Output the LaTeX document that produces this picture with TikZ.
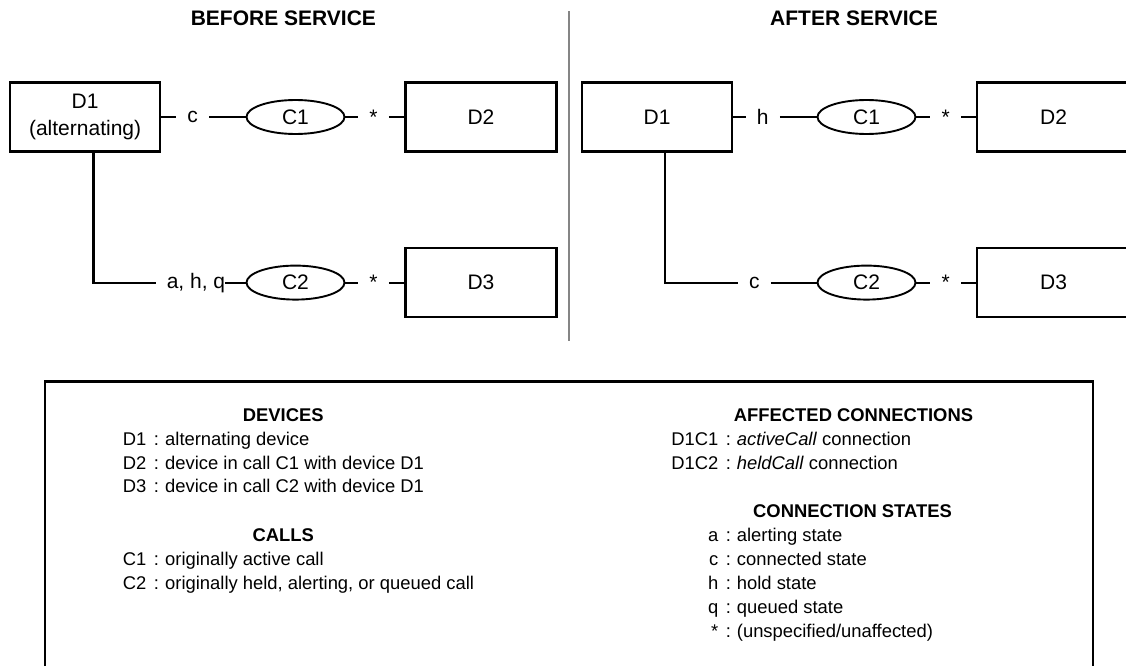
\documentclass[tikz,border=0pt]{standalone}
\usepackage{fontspec}
\setmainfont{Liberation Sans}
\usetikzlibrary{shapes.geometric}
\begin{document}
\begin{tikzpicture}[x=1pt,y=-1pt,
  every node/.style={font=\fontsize{21}{27.7}\selectfont},
  devbox/.style={draw, line width=2.2pt, minimum width=150pt, minimum height=69pt, inner sep=0pt, align=center},
  callnode/.style={draw, ellipse, line width=1.9pt, minimum width=98pt, minimum height=34pt, inner sep=0pt},
  conn/.style={line width=2.2pt},
  stlab/.style={inner xsep=11pt, inner ysep=0pt},
  title/.style={font=\fontsize{21}{24}\selectfont\bfseries, anchor=base, inner sep=0pt},
  lghead/.style={font=\fontsize{18.4}{22}\selectfont\bfseries, anchor=base, inner sep=0pt},
  lgtext/.style={font=\fontsize{18.4}{22}\selectfont, anchor=base west, inner sep=0pt},
  lglab/.style={font=\fontsize{18.4}{22}\selectfont, inner sep=0pt},
  lgcolon/.style={font=\fontsize{18.4}{22}\selectfont, anchor=base, inner sep=0pt}
]
\useasboundingbox (0,0) rectangle (1126,666);

% titles and divider
\node[title] (tbefore) at (283.4,25.4) {BEFORE SERVICE};
\node[title] (tafter) at (854,25.4) {AFTER SERVICE};
\coordinate (divtop) at (569.4,11.5);
\coordinate (divbot) at (569.4,341);
\draw[color=black!48, line width=2pt] (divtop) -- (divbot);

% ---------- BEFORE ----------
\node[devbox] (d1L) at (85.1,117) {D1\\(alternating)};
\node[devbox, minimum width=151pt] (d2L) at (481,117) {D2};
\node[devbox, minimum width=151pt] (d3L) at (481,282.6) {D3};
\node[callnode] (c1L) at (295.5,117) {C1};
\node[callnode] (c2L) at (295.5,282.6) {C2};
\node[stlab] (cL) at (192.7,117) {c};
\node[stlab] (s1L) at (373.5,117) {*};
\node[stlab] (s2L) at (373.5,282.6) {*};
\node[inner sep=0pt] (ahq) at (196,282.6) {a, h, q};
\coordinate (kL) at (93.5,282.6);

\draw[conn] (d1L.east) -- (cL.west);
\draw[conn] (cL.east) -- (c1L.west);
\draw[conn] (c1L.east) -- (s1L.west);
\draw[conn] (s1L.east) -- (d2L.west);
\draw[conn] (d1L.south -| kL) -- (kL) -- ([xshift=-11pt]ahq.west);
\draw[conn] (ahq.east) -- (c2L.west);
\draw[conn] (c2L.east) -- (s2L.west);
\draw[conn] (s2L.east) -- (d3L.west);

% ---------- AFTER ----------
\node[devbox, minimum width=150.5pt] (d1R) at (657,117) {D1};
\node[devbox, minimum width=153pt] (d2R) at (1053.5,117) {D2};
\node[devbox, minimum width=153pt] (d3R) at (1053.5,282.6) {D3};
\node[callnode] (c1R) at (866.5,117) {C1};
\node[callnode] (c2R) at (866.5,282.6) {C2};
\node[stlab] (hR) at (762.8,117) {h};
\node[stlab] (cR) at (754.3,282.6) {c};
\node[stlab] (s1R) at (945.7,117) {*};
\node[stlab] (s2R) at (945.7,282.6) {*};
\coordinate (kR) at (665,282.6);

\draw[conn] (d1R.east) -- (hR.west);
\draw[conn] (hR.east) -- (c1R.west);
\draw[conn] (c1R.east) -- (s1R.west);
\draw[conn] (s1R.east) -- (d2R.west);
\draw[conn] (d1R.south -| kR) -- (kR) -- (cR.west);
\draw[conn] (cR.east) -- (c2R.west);
\draw[conn] (c2R.east) -- (s2R.west);
\draw[conn] (s2R.east) -- (d3R.west);

% ---------- LEGEND ----------
\coordinate (lgbl) at (45,666);
\coordinate (lgtr) at (1093,381.5);
\coordinate (lgbr) at (1093,666);
\draw[line width=2.2pt] (lgbl) |- (lgtr) -- (lgbr);

% left column
\node[lghead] (hdev) at (283.3,421.1) {DEVICES};
\node[lglab, anchor=base west] (ld1) at (122.7,445.6) {D1};
\node[lgcolon] (kd1) at (156.5,445.6) {:};
\node[lgtext] (td1) at (165,445.6) {alternating device};
\node[lglab, anchor=base west] (ld2) at (122.7,469.1) {D2};
\node[lgcolon] (kd2) at (156.5,469.1) {:};
\node[lgtext] (td2) at (165,469.1) {device in call C1 with device D1};
\node[lglab, anchor=base west] (ld3) at (122.7,492.1) {D3};
\node[lgcolon] (kd3) at (156.5,492.1) {:};
\node[lgtext] (td3) at (165,492.1) {device in call C2 with device D1};

\node[lghead] (hcalls) at (283.3,541.1) {CALLS};
\node[lglab, anchor=base west] (lc1) at (122.7,565.1) {C1};
\node[lgcolon] (kc1) at (156.5,565.1) {:};
\node[lgtext] (tc1) at (165,565.1) {originally active call};
\node[lglab, anchor=base west] (lc2) at (122.7,589.1) {C2};
\node[lgcolon] (kc2) at (156.5,589.1) {:};
\node[lgtext] (tc2) at (165,589.1) {originally held, alerting, or queued call};

% right column
\node[lghead] (haff) at (853.5,421.1) {AFFECTED CONNECTIONS};
\node[lglab, anchor=base east] (lcc1) at (718.5,445.1) {D1C1};
\node[lgcolon] (kcc1) at (728.5,445.1) {:};
\node[lgtext] (tcc1) at (736.7,445.1) {\textit{activeCall} connection};
\node[lglab, anchor=base east] (lcc2) at (718.5,469.1) {D1C2};
\node[lgcolon] (kcc2) at (728.5,469.1) {:};
\node[lgtext] (tcc2) at (736.7,469.1) {\textit{heldCall} connection};

\node[lghead] (hstates) at (852.5,517.1) {CONNECTION STATES};
\node[lglab, anchor=base east] (lsa) at (718.5,541.1) {a};
\node[lgcolon] (ksa) at (728.5,541.1) {:};
\node[lgtext] (tsa) at (736.7,541.1) {alerting state};
\node[lglab, anchor=base east] (lsc) at (718.5,565.1) {c};
\node[lgcolon] (ksc) at (728.5,565.1) {:};
\node[lgtext] (tsc) at (736.7,565.1) {connected state};
\node[lglab, anchor=base east] (lsh) at (718.5,589.1) {h};
\node[lgcolon] (ksh) at (728.5,589.1) {:};
\node[lgtext] (tsh) at (736.7,589.1) {hold state};
\node[lglab, anchor=base east] (lsq) at (718.5,613.1) {q};
\node[lgcolon] (ksq) at (728.5,613.1) {:};
\node[lgtext] (tsq) at (736.7,613.1) {queued state};
\node[lglab, anchor=base east] (lss) at (718.5,637.1) {*};
\node[lgcolon] (kss) at (728.5,637.1) {:};
\node[lgtext] (tss) at (736.7,637.1) {(unspecified/unaffected)};
\end{tikzpicture}
\end{document}
